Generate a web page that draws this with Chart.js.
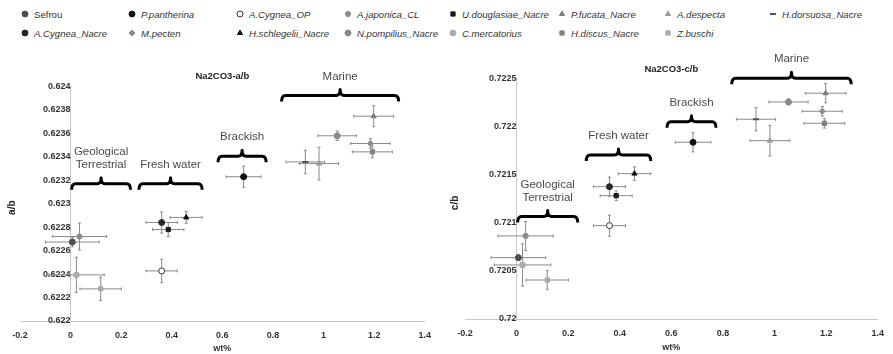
<!DOCTYPE html>
<html>
<head>
<meta charset="utf-8">
<script src="https://cdn.jsdelivr.net/npm/chart.js@4.4.1/dist/chart.umd.min.js"></script>
<style>
  html, body { margin: 0; padding: 0; background: #fff; }
  body { width: 893px; height: 354px; position: relative; overflow: hidden; font-family: "Liberation Sans", Arial, sans-serif; }
  #legend { position: absolute; left: 0; top: 0; width: 893px; height: 45px; }
  .item { position: absolute; height: 12px; display: flex; align-items: center; font-size: 9.6px; font-style: italic; color: #333; white-space: nowrap; }
  .item.plain { font-style: normal; }
  .item canvas { width: 12px; height: 12px; margin-right: 3px; }
  #wrapA { position: absolute; left: 0; top: 45px; width: 440px; height: 309px; }
  #wrapC { position: absolute; left: 440px; top: 45px; width: 453px; height: 309px; }
</style>
</head>
<body>
<div id="legend"></div>
<div id="wrapA"><canvas id="chartA"></canvas></div>
<div id="wrapC"><canvas id="chartC"></canvas></div>
<script>
// series, in legend order
const species = ['Sefrou', 'P.pantherina', 'A.Cygnea_OP', 'A.japonica_CL', 'U.douglasiae_Nacre',
  'P.fucata_Nacre', 'A.despecta', 'H.dorsuosa_Nacre', 'A.Cygnea_Nacre', 'M.pecten',
  'H.schlegelii_Nacre', 'N.pompilius_Nacre', 'C.mercatorius', 'H.discus_Nacre', 'Z.buschi'];

// wt% (x) and its error, shared by both panels
const wt    = [0.007, 0.684, 0.36, 0.035, 0.386, 1.198, 0.982, 0.928, 0.36, 1.185, 0.457, 1.054, 0.023, 1.193, 0.119];
const wtErr = [0.106, 0.069, 0.062, 0.107, 0.062, 0.079, 0.077, 0.076, 0.062, 0.078, 0.063, 0.076, 0.11, 0.079, 0.082];

// Na2CO3 a/b ratio
const abRatio = [0.622673, 0.62323, 0.622427, 0.62272, 0.62278, 0.623746, 0.623342, 0.623356, 0.62284, 0.623513, 0.622883, 0.623579, 0.622393, 0.623442, 0.622274];
const abErr   = [0.00004, 0.00009, 0.0001, 0.000115, 0.00006, 0.00009, 0.00014, 0.0001, 0.00009, 0.00004, 0.00005, 0.00004, 0.00015, 0.00005, 0.0001];

// Na2CO3 c/b ratio
const cbRatio = [0.720639, 0.72184, 0.720972, 0.720865, 0.721284, 0.722351, 0.721857, 0.72208, 0.721378, 0.722163, 0.721514, 0.72226, 0.720563, 0.722038, 0.720406];
const cbErr   = [0.00003, 0.0001, 0.00011, 0.00015, 0.00005, 0.0001, 0.00016, 0.00012, 0.0001, 0.00005, 0.00007, 0.00003, 0.00022, 0.00005, 0.0001];

// habitat groups (brackets)
const groupNames = [['Geological', 'Terrestrial'], ['Fresh water'], ['Brackish'], ['Marine']];
const groupFrom  = [0.004, 0.27, 0.583, 0.834];
const groupTo    = [0.237, 0.52, 0.773, 1.297];
const abGroupLevel = [0.62317, 0.62317, 0.623404, 0.623923];
const cbGroupLevel = [0.721066, 0.721708, 0.722055, 0.722507];

// axis ranges
const wtRange = { min: -0.2, max: 1.4, step: 0.2 };
const abRange = { min: 0.622, max: 0.624, step: 0.0002 };
const cbRange = { min: 0.72, max: 0.7225, step: 0.0005 };

// marker looks
const markerStyle = ['circle', 'circle', 'circle', 'star', 'rect', 'triangle', 'triangle', 'line',
  'circle', 'rectRot', 'triangle', 'circle', 'circle', 'rect', 'rect'];
const markerFill = ['#4d4d4d', '#111', '#fff', '#8c8c8c', '#1a1a1a', '#7c7c7c', '#9c9c9c', '#555',
  '#262626', '#8c8c8c', '#111', '#8a8a8a', '#ababab', '#808080', '#a8a8a8'];
const markerEdge = ['#4d4d4d', '#111', '#333', '#8c8c8c', '#1a1a1a', '#7c7c7c', '#9c9c9c', '#555',
  '#262626', '#8c8c8c', '#111', '#8a8a8a', '#ababab', '#808080', '#a8a8a8'];

const FONT = '"Liberation Sans", Arial, sans-serif';
const fmt = d => v => String(+Number(v).toFixed(d));
const strokeOnly = s => s === 'star' || s === 'line';

// ---- legend (html) ----
const legendCols = [25, 132, 240, 348, 453, 562, 668, 773];
const legendRows = [14, 33];
const legend = document.getElementById('legend');
species.forEach((name, i) => {
  const row = Math.floor(i / 8), col = i % 8;
  const div = document.createElement('div');
  div.className = 'item' + (name === 'Sefrou' ? ' plain' : '');
  div.style.left = (legendCols[col] - 6) + 'px';
  div.style.top = (legendRows[row] - 6) + 'px';
  const cv = document.createElement('canvas');
  cv.width = 12; cv.height = 12;
  const ctx = cv.getContext('2d');
  ctx.fillStyle = markerFill[i];
  ctx.strokeStyle = markerEdge[i];
  ctx.lineWidth = strokeOnly(markerStyle[i]) ? 2 : 1;
  Chart.helpers.drawPoint(ctx, { pointStyle: markerStyle[i], radius: 3, rotation: 0, borderWidth: ctx.lineWidth }, 6, 6);
  const span = document.createElement('span');
  span.textContent = name;
  div.appendChild(cv);
  div.appendChild(span);
  legend.appendChild(div);
});

// ---- plugins ----
const errorBars = {
  id: 'errorBars',
  beforeDatasetsDraw(chart, args, opts) {
    const { ctx, scales: { x, y } } = chart;
    ctx.save();
    ctx.strokeStyle = '#8a8a8a';
    ctx.lineWidth = 1;
    chart.data.datasets.forEach((ds, i) => {
      const p = ds.data[0];
      const px = x.getPixelForValue(p.x), py = y.getPixelForValue(p.y);
      const x0 = x.getPixelForValue(p.x - opts.xErr[i]), x1 = x.getPixelForValue(p.x + opts.xErr[i]);
      const y0 = y.getPixelForValue(p.y - opts.yErr[i]), y1 = y.getPixelForValue(p.y + opts.yErr[i]);
      ctx.beginPath();
      ctx.moveTo(x0, py); ctx.lineTo(x1, py);
      ctx.moveTo(x0, py - 1.5); ctx.lineTo(x0, py + 1.5);
      ctx.moveTo(x1, py - 1.5); ctx.lineTo(x1, py + 1.5);
      ctx.moveTo(px, y0); ctx.lineTo(px, y1);
      ctx.moveTo(px - 1.5, y0); ctx.lineTo(px + 1.5, y0);
      ctx.moveTo(px - 1.5, y1); ctx.lineTo(px + 1.5, y1);
      ctx.stroke();
    });
    ctx.restore();
  }
};

function brace(ctx, x0, x1, y) {
  const xm = (x0 + x1) / 2, d = 6, r = 4;
  ctx.beginPath();
  ctx.moveTo(x0, y + d);
  ctx.quadraticCurveTo(x0, y, x0 + r, y);
  ctx.lineTo(xm - r, y);
  ctx.quadraticCurveTo(xm, y, xm, y - d);
  ctx.quadraticCurveTo(xm, y, xm + r, y);
  ctx.lineTo(x1 - r, y);
  ctx.quadraticCurveTo(x1, y, x1, y + d);
  ctx.stroke();
}

const groups = {
  id: 'groups',
  afterDraw(chart, args, opts) {
    const { ctx, chartArea, scales: { x, y } } = chart;
    ctx.save();
    ctx.strokeStyle = '#000';
    ctx.lineWidth = 3;
    ctx.lineJoin = 'round';
    ctx.fillStyle = '#4a4a4a';
    ctx.font = '11.5px ' + FONT;
    ctx.textAlign = 'center';
    ctx.textBaseline = 'middle';
    groupNames.forEach((lines, i) => {
      const x0 = x.getPixelForValue(groupFrom[i]), x1 = x.getPixelForValue(groupTo[i]);
      const yy = y.getPixelForValue(opts.levels[i]);
      brace(ctx, x0, x1, yy);
      lines.forEach((t, k) => {
        ctx.fillText(t, (x0 + x1) / 2, yy - 19 - (lines.length - 1 - k) * 13);
      });
    });
    // y axis title
    ctx.fillStyle = '#222';
    ctx.font = 'bold 10px ' + FONT;
    ctx.translate(chartArea.left - opts.titleGap, (chartArea.top + chartArea.bottom) / 2 + 4);
    ctx.rotate(-Math.PI / 2);
    ctx.fillText(opts.axisTitle, 0, 0);
    ctx.restore();
  }
};

function buildDatasets(values) {
  return species.map((name, i) => ({
    label: name,
    data: [{ x: wt[i], y: values[i] }],
    pointStyle: markerStyle[i],
    pointRadius: 3,
    backgroundColor: markerFill[i],
    borderColor: markerEdge[i],
    borderWidth: strokeOnly(markerStyle[i]) ? 2 : 1
  }));
}

function options(o) {
  const tickFont = { family: FONT, size: 9, weight: 'bold' };
  return {
    responsive: true,
    maintainAspectRatio: false,
    animation: false,
    devicePixelRatio: 1,
    layout: { padding: { left: o.padLeft, right: o.padRight, top: 0, bottom: 0 } },
    plugins: {
      legend: { display: false },
      tooltip: { enabled: false },
      title: {
        display: true, text: o.title, fullSize: false, color: '#222',
        font: { family: FONT, size: 9.5, weight: 'bold' },
        padding: { top: o.titleTop, bottom: o.titleBottom }
      },
      errorBars: { xErr: wtErr, yErr: o.yErr },
      groups: { levels: o.levels, axisTitle: o.axisTitle, titleGap: o.titleGap }
    },
    scales: {
      x: {
        type: 'linear', min: wtRange.min, max: wtRange.max,
        afterFit: s => { s.height = o.xHeight; },
        ticks: { stepSize: wtRange.step, padding: 9, color: '#333', font: tickFont, callback: fmt(1) },
        grid: { display: false, drawTicks: false },
        border: { display: true, color: '#c8c8c8' },
        title: { display: true, text: 'wt%', color: '#333', font: tickFont, padding: { top: 0, bottom: o.xTitleBottom } }
      },
      y: {
        type: 'linear', position: { x: 0 }, min: o.range.min, max: o.range.max,
        ticks: { stepSize: o.range.step, padding: 9, color: '#333', font: tickFont, callback: fmt(4) },
        grid: { display: false, drawTicks: false },
        border: { display: true, color: '#c8c8c8' }
      }
    }
  };
}

new Chart(document.getElementById('chartA'), {
  type: 'scatter',
  data: { datasets: buildDatasets(abRatio) },
  options: options({
    title: 'Na2CO3-a/b', axisTitle: 'a/b', range: abRange, yErr: abErr, levels: abGroupLevel,
    padLeft: 20, padRight: 9, titleTop: 26, titleBottom: 4, xHeight: 33, xTitleBottom: 0, titleGap: 8
  }),
  plugins: [errorBars, groups]
});

new Chart(document.getElementById('chartC'), {
  type: 'scatter',
  data: { datasets: buildDatasets(cbRatio) },
  options: options({
    title: 'Na2CO3-c/b', axisTitle: 'c/b', range: cbRange, yErr: cbErr, levels: cbGroupLevel,
    padLeft: 25, padRight: 8, titleTop: 19, titleBottom: 3.5, xHeight: 35, xTitleBottom: 1, titleGap: 10
  }),
  plugins: [errorBars, groups]
});
</script>
</body>
</html>
